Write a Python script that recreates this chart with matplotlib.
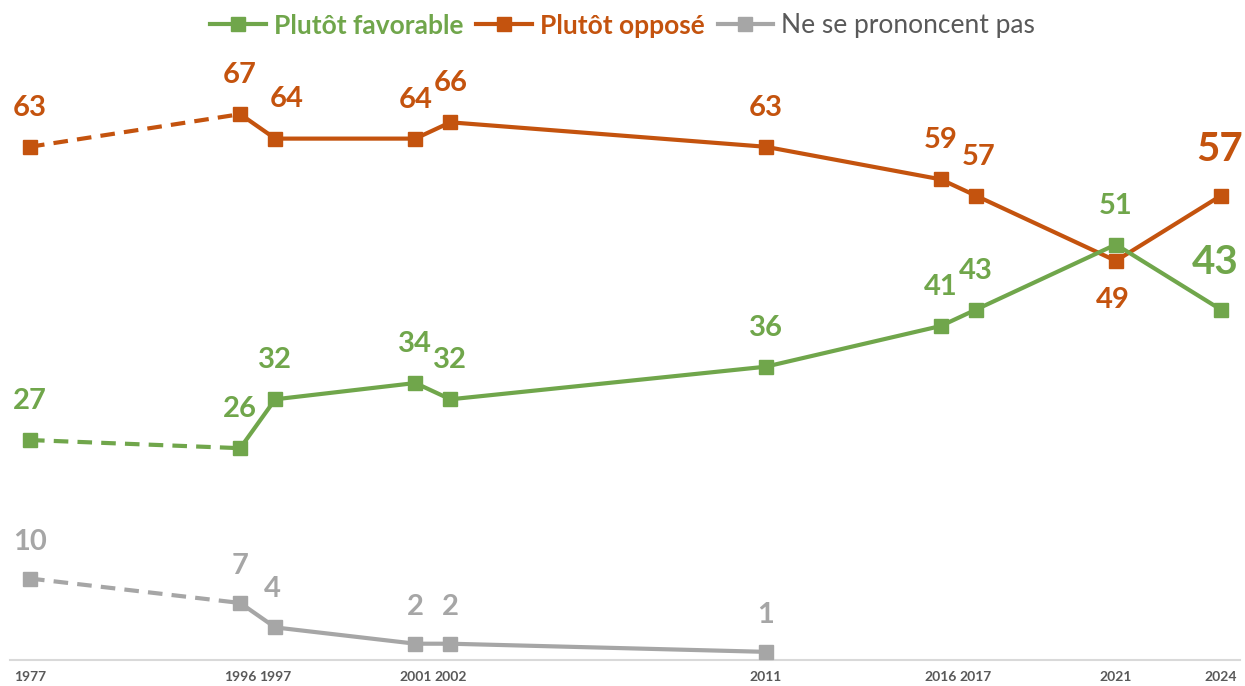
import numpy as np
import matplotlib.pyplot as plt
from matplotlib.lines import Line2D

# Survey years and values (%)
years = [1977, 1996, 1997, 2001, 2002, 2011, 2016, 2017, 2021, 2024]
favorable = [27, 26, 32, 34, 32, 36, 41, 43, 51, 43]
oppose = [63, 67, 64, 64, 66, 63, 59, 57, 49, 57]
nsp_years = [1977, 1996, 1997, 2001, 2002, 2011]
nsp = [10, 7, 4, 2, 2, 1]

green = '#70A64B'
orange = '#C4530E'
grey = '#A6A6A6'

plt.rcParams['font.family'] = ['Lato', 'DejaVu Sans']


# 1977-1996 gap is compressed on the time axis
def fwd(x):
    x = np.asarray(x, dtype=float)
    return np.where(x < 1996, 1996 - (1996 - x) * 6 / 19, x)


def inv(x):
    x = np.asarray(x, dtype=float)
    return np.where(x < 1996, 1996 - (1996 - x) * 19 / 6, x)


fig = plt.figure(figsize=(12.45, 6.86), dpi=100)
ax = fig.add_axes([10 / 1245, 26 / 686, 1230 / 1245, 611 / 686])
ax.set_xscale('function', functions=(fwd, inv))


def draw(xs, ys, color):
    # dashed for the first interval, solid afterwards
    ax.plot(xs[:2], ys[:2], color=color, lw=3, ls=(0, (3.5, 2.2)),
            solid_capstyle='butt', zorder=2)
    ax.plot(xs[1:], ys[1:], color=color, lw=3, zorder=2)
    ax.plot(xs, ys, ls='none', marker='s', ms=10, color=color, zorder=3)


draw(years, oppose, orange)
draw(years, favorable, green)
draw(nsp_years, nsp, grey)

# label offsets in pixels (dx, dy); default is above the point
fav_off = {2024: (-6, 47)}
opp_off = {1997: (11, 40), 2017: (3, 39), 2021: (-3, -39), 2024: (-1, 46)}
nsp_off = {1997: (-3, 38)}


def labels(xs, ys, color, offs, dflt=39):
    for x, y in zip(xs, ys):
        dx, dy = offs.get(x, (0, dflt))
        size = 29 if x == 2024 else 21
        ax.annotate(str(y), (x, y), xytext=(dx, dy), textcoords='offset pixels',
                    ha='center', va='center', fontsize=size, fontweight='bold',
                    color=color)


labels(years, oppose, orange, opp_off)
labels(years, favorable, green, fav_off)
labels(nsp_years, nsp, grey, nsp_off, dflt=37)

ax.set_ylim(0, 75)
ax.set_xlim(1977 - 20 / 35 * 19 / 6, 2024 + 19 / 35)
ax.set_yticks([])
ax.set_xticks(years)
ax.set_xticklabels([str(y) for y in years], fontsize=10, fontweight='bold',
                   color='#595959')
ax.tick_params(axis='x', length=0, pad=8)
for s in ['top', 'right', 'left']:
    ax.spines[s].set_visible(False)
ax.spines['bottom'].set_color('#D9D9D9')
ax.spines['bottom'].set_linewidth(1.5)

handles = [Line2D([], [], color=c, lw=3, marker='s', ms=10) for c in (green, orange, grey)]
leg = fig.legend(handles, ['Plutôt favorable', 'Plutôt opposé', 'Ne se prononcent pas'],
                 loc='center', bbox_to_anchor=(0.5, 1 - 26 / 686), ncol=3, frameon=False,
                 fontsize=19, handlelength=2.1, handletextpad=0.3, columnspacing=0.5)
for t, c, w in zip(leg.get_texts(), (green, orange, '#595959'), ('bold', 'bold', 'normal')):
    t.set_color(c)
    t.set_fontweight(w)

fig.savefig('out.png', dpi=100)
